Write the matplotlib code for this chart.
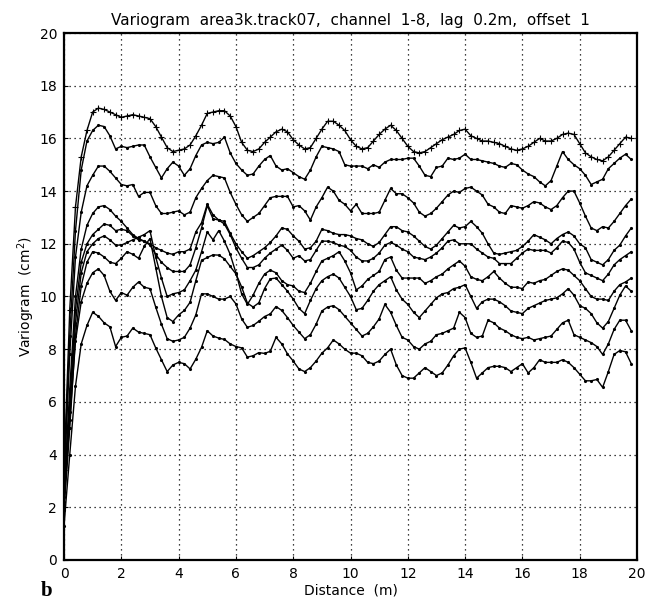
import numpy as np
import matplotlib
matplotlib.use("Agg")
import matplotlib.pyplot as plt

# lag distances (0.2 m steps)
dist = np.arange(100) * 0.2

# variogram values, top curve first
ch1 = [3.4, 9.5, 13.4, 15.3, 16.3, 17.0, 17.15, 17.1, 17.0, 16.9, 16.8, 16.85, 16.9, 16.85, 16.8, 16.75, 16.45, 16.05, 15.65, 15.5,
       15.55, 15.6, 15.75, 16.1, 16.5, 16.95, 17.0, 17.05, 17.05, 16.85, 16.45, 15.85, 15.55, 15.5, 15.6, 15.85, 16.05, 16.25, 16.35, 16.25,
       15.95, 15.75, 15.6, 15.65, 16.0, 16.35, 16.65, 16.65, 16.5, 16.3, 15.95, 15.7, 15.6, 15.65, 15.9, 16.15, 16.35, 16.5, 16.3, 16.0,
       15.7, 15.5, 15.45, 15.5, 15.65, 15.8, 15.95, 16.05, 16.15, 16.3, 16.35, 16.1, 16.0, 15.9, 15.9, 15.85, 15.8, 15.7, 15.6, 15.55,
       15.6, 15.7, 15.85, 16.0, 15.9, 15.9, 16.0, 16.15, 16.2, 16.15, 15.8, 15.45, 15.3, 15.2, 15.15, 15.3, 15.55, 15.8, 16.05, 16.0]
ch2 = [3.2, 8.5, 12.5, 14.8, 15.9, 16.3, 16.5, 16.45, 16.1, 15.6, 15.7, 15.65, 15.7, 15.75, 15.75, 15.3, 14.9, 14.5, 14.85, 15.1,
       14.95, 14.6, 14.85, 15.35, 15.75, 15.85, 15.8, 15.85, 16.05, 15.45, 15.05, 14.8, 14.6, 14.65, 14.95, 15.2, 15.35, 14.95, 14.8, 14.85,
       14.7, 14.55, 14.45, 14.8, 15.3, 15.7, 15.65, 15.6, 15.5, 15.0, 14.95, 14.95, 14.95, 14.85, 15.0, 14.9, 15.1, 15.2, 15.2, 15.2,
       15.25, 15.25, 14.95, 14.6, 14.55, 14.9, 14.95, 15.25, 15.2, 15.25, 15.4, 15.2, 15.2, 15.15, 15.1, 15.05, 14.95, 14.9, 15.05, 15.0,
       14.8, 14.65, 14.55, 14.35, 14.2, 14.4, 14.95, 15.5, 15.2, 15.0, 14.85, 14.6, 14.25, 14.35, 14.45, 14.85, 15.05, 15.25, 15.4, 15.2]
ch3 = [2.9, 7.8, 11.5, 13.2, 14.2, 14.6, 14.95, 14.95, 14.75, 14.5, 14.25, 14.2, 14.25, 13.8, 13.95, 13.95, 13.45, 13.15, 13.15, 13.2,
       13.25, 13.1, 13.2, 13.75, 14.1, 14.4, 14.6, 14.55, 14.5, 13.95, 13.5, 13.1, 12.85, 13.0, 13.15, 13.45, 13.75, 13.8, 13.8, 13.8,
       13.4, 13.45, 13.25, 12.9, 13.4, 13.75, 14.15, 14.0, 13.65, 13.5, 13.25, 13.5, 13.15, 13.15, 13.15, 13.2, 13.65, 14.1, 13.9, 13.9,
       13.75, 13.55, 13.2, 13.05, 13.15, 13.35, 13.6, 13.85, 14.0, 13.95, 14.1, 14.15, 14.0, 13.85, 13.5, 13.4, 13.2, 13.15, 13.45, 13.4,
       13.35, 13.45, 13.6, 13.55, 13.4, 13.3, 13.45, 13.75, 14.0, 14.0, 13.55, 13.05, 12.6, 12.5, 12.65, 12.6, 12.85, 13.15, 13.45, 13.7]
ch4 = [2.6, 6.5, 10.0, 11.8, 12.7, 13.15, 13.4, 13.45, 13.3, 13.05, 12.85, 12.6, 12.35, 12.2, 12.1, 12.0, 11.85, 11.75, 11.65, 11.6,
       11.7, 11.7, 11.8, 12.45, 12.8, 13.5, 13.1, 12.9, 12.85, 12.4, 12.0, 11.7, 11.45, 11.55, 11.7, 11.85, 12.05, 12.3, 12.6, 12.55,
       12.3, 12.1, 11.8, 11.85, 12.1, 12.55, 12.5, 12.4, 12.35, 12.35, 12.3, 12.2, 12.15, 12.0, 11.9, 12.05, 12.35, 12.65, 12.65, 12.5,
       12.45, 12.3, 12.1, 11.9, 11.8, 11.95, 12.2, 12.45, 12.7, 12.6, 12.65, 12.85, 12.65, 12.4, 12.0, 11.65, 11.6, 11.65, 11.7, 11.75,
       11.9, 12.1, 12.35, 12.25, 12.15, 12.0, 12.2, 12.35, 12.45, 12.3, 12.0, 11.85, 11.4, 11.3, 11.2, 11.4, 11.75, 11.95, 12.3, 12.6]
ch5 = [2.4, 6.0, 9.5, 11.3, 12.0, 12.35, 12.55, 12.75, 12.7, 12.5, 12.55, 12.5, 12.3, 12.15, 12.1, 11.95, 11.6, 11.3, 11.1, 10.95,
       10.95, 10.95, 11.2, 11.85, 12.6, 13.45, 12.95, 12.9, 12.75, 12.35, 11.85, 11.45, 11.1, 11.1, 11.2, 11.45, 11.65, 11.8, 11.95, 11.75,
       11.45, 11.55, 11.35, 11.4, 11.75, 12.1, 12.1, 12.05, 11.95, 11.9, 11.75, 11.5, 11.35, 11.35, 11.45, 11.65, 11.95, 12.05, 11.95, 11.8,
       11.7, 11.5, 11.45, 11.4, 11.5, 11.65, 11.85, 12.1, 12.15, 12.0, 12.0, 12.0, 11.8, 11.65, 11.5, 11.45, 11.25, 11.25, 11.25, 11.45,
       11.65, 11.8, 11.75, 11.75, 11.75, 11.65, 11.85, 12.1, 12.05, 11.8, 11.3, 10.9, 10.8, 10.7, 10.6, 10.85, 11.2, 11.4, 11.55, 11.7]
ch6 = [2.2, 5.6, 9.0, 10.9, 11.7, 12.0, 12.2, 12.3, 12.15, 11.95, 11.95, 12.05, 12.15, 12.25, 12.35, 12.5, 11.5, 10.7, 10.0, 10.1,
       10.15, 10.25, 10.6, 11.0, 11.7, 12.45, 12.15, 12.5, 12.1, 11.6, 10.9, 10.1, 9.7, 10.05, 10.5, 10.85, 11.0, 10.9, 10.6, 10.45,
       10.4, 10.2, 10.15, 10.5, 10.95, 11.35, 11.45, 11.55, 11.7, 11.35, 10.9, 10.25, 10.4, 10.65, 10.8, 10.95, 11.4, 11.5, 11.0, 10.7,
       10.7, 10.7, 10.7, 10.5, 10.6, 10.75, 10.85, 11.05, 11.2, 11.35, 11.15, 10.75, 10.65, 10.6, 10.75, 10.95, 10.7, 10.5, 10.35, 10.35,
       10.3, 10.55, 10.5, 10.6, 10.65, 10.8, 10.95, 11.05, 11.0, 10.8, 10.6, 10.3, 10.0, 9.9, 9.9, 9.85, 10.2, 10.45, 10.55, 10.7]
ch7 = [1.9, 5.0, 8.5, 10.4, 11.3, 11.7, 11.65, 11.5, 11.3, 11.25, 11.45, 11.7, 11.6, 11.45, 11.9, 12.2, 11.1, 10.0, 9.2, 9.05,
       9.3, 9.47, 9.78, 10.6, 11.37, 11.48, 11.58, 11.57, 11.43, 11.14, 10.86, 10.36, 9.75, 9.6, 9.76, 10.3, 10.67, 10.7, 10.45, 10.2,
       9.9, 9.55, 9.35, 9.85, 10.3, 10.6, 10.75, 10.85, 10.7, 10.35, 10.0, 9.5, 9.55, 9.85, 10.2, 10.45, 10.6, 10.75, 10.25, 9.9,
       9.7, 9.4, 9.2, 9.45, 9.7, 9.95, 10.1, 10.15, 10.3, 10.35, 10.45, 10.0, 9.55, 9.8, 9.9, 9.9, 9.8, 9.65, 9.45, 9.4,
       9.35, 9.55, 9.65, 9.75, 9.85, 9.9, 9.95, 10.1, 10.3, 10.05, 9.65, 9.55, 9.35, 9.0, 8.8, 9.05, 9.55, 10.05, 10.4, 10.2]
ch8 = [2.1, 5.3, 8.3, 9.8, 10.5, 10.9, 11.05, 10.8, 10.2, 9.85, 10.15, 10.05, 10.35, 10.55, 10.35, 10.3, 9.6, 8.95, 8.4, 8.3,
       8.35, 8.45, 8.8, 9.3, 10.1, 10.1, 10.0, 9.9, 9.9, 10.0, 9.72, 9.15, 8.83, 8.9, 9.06, 9.24, 9.34, 9.62, 9.47, 9.2,
       8.9, 8.65, 8.4, 8.55, 8.95, 9.45, 9.6, 9.65, 9.5, 9.25, 9.0, 8.75, 8.5, 8.6, 8.85, 9.15, 9.7, 9.4, 8.9, 8.45,
       8.35, 8.1, 8.0, 8.2, 8.3, 8.55, 8.6, 8.7, 8.8, 9.4, 9.2, 8.6, 8.45, 8.5, 9.1, 9.0, 8.8, 8.7, 8.55, 8.45,
       8.4, 8.45, 8.35, 8.4, 8.45, 8.5, 8.75, 9.0, 9.1, 8.55, 8.45, 8.35, 8.25, 8.1, 7.8, 8.2, 8.75, 9.1, 9.1, 8.7]
ch9 = [1.3, 4.0, 6.6, 8.2, 8.9, 9.4, 9.25, 9.0, 8.85, 8.1, 8.45, 8.5, 8.8, 8.65, 8.6, 8.55, 8.05, 7.6, 7.15, 7.4,
       7.5, 7.45, 7.25, 7.62, 8.07, 8.7, 8.5, 8.42, 8.37, 8.2, 8.1, 8.05, 7.7, 7.75, 7.87, 7.84, 7.92, 8.45, 8.2, 7.82,
       7.55, 7.25, 7.15, 7.3, 7.55, 7.85, 8.05, 8.35, 8.2, 8.0, 7.85, 7.85, 7.75, 7.5, 7.45, 7.55, 7.8, 8.0, 7.4, 7.0,
       6.9, 6.9, 7.1, 7.3, 7.15, 7.0, 7.1, 7.4, 7.75, 8.0, 8.05, 7.5, 6.9, 7.1, 7.3, 7.35, 7.35, 7.3, 7.15, 7.3,
       7.45, 7.1, 7.3, 7.6, 7.5, 7.5, 7.5, 7.6, 7.5, 7.3, 7.05, 6.8, 6.8, 6.85, 6.55, 7.15, 7.8, 7.95, 7.9, 7.45]

curves = [ch1, ch2, ch3, ch4, ch5, ch6, ch7, ch8, ch9]

fig = plt.figure(figsize=(6.5, 6.09), dpi=100)
ax = fig.add_axes([0.0985, 0.0805, 0.8815, 0.8653])

for i, c in enumerate(curves):
    if i == 0:
        ax.plot(dist, c, color="black", lw=1.0, marker="+", ms=4, mew=0.8)
    else:
        ax.plot(dist, c, color="black", lw=1.0, marker=".", ms=2.5)

ax.set_xlim(0, 20)
ax.set_ylim(0, 20)
ax.set_xticks(np.arange(0, 21, 2))
ax.set_yticks(np.arange(0, 21, 2))
ax.grid(True, color="black", linestyle=(0, (1, 3)), linewidth=0.9)
ax.tick_params(direction="in", length=3, labelsize=10, pad=5)
for s in ax.spines.values():
    s.set_linewidth(1.6)

ax.set_title("Variogram  area3k.track07,  channel  1-8,  lag  0.2m,  offset  1",
             fontsize=11, pad=6)
ax.set_xlabel("Distance  (m)", fontsize=10, labelpad=2)
ax.set_ylabel("Variogram  (cm$^2$)", fontsize=10, labelpad=2)

fig.text(0.062, 0.022, "b", fontsize=15, fontweight="bold", family="Liberation Serif")

fig.savefig("out.png", dpi=100)
